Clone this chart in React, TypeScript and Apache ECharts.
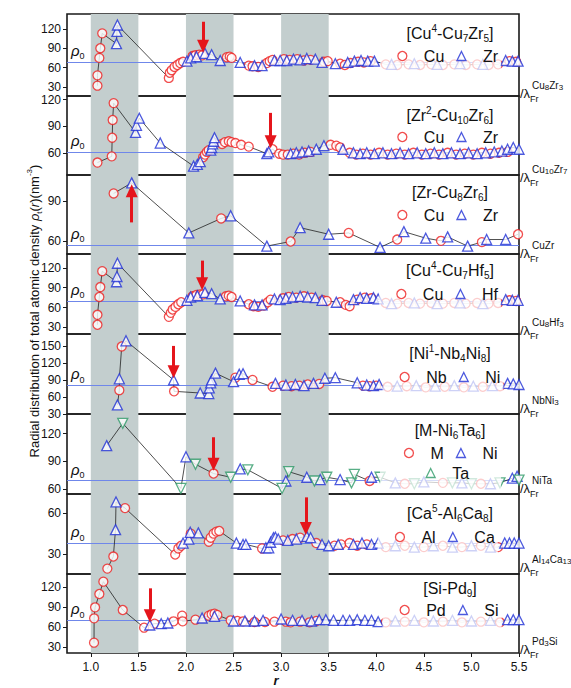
import React, { useEffect, useRef } from 'react';
import * as echarts from 'echarts';

// ---------- shared axis data ----------
const xTickValues = [1.0, 1.5, 2.0, 2.5, 3.0, 3.5, 4.0, 4.5, 5.0, 5.5];
const shadedBands = [[1.0, 1.5], [2.0, 2.5], [3.0, 3.5]];

// ---------- panel 1: [Cu4-Cu7Zr5] ----------
const p1Cu = [[1.07,32],[1.07,48],[1.09,75],[1.10,90],[1.12,113],[1.82,44],[1.83,52],[1.85,56],[1.88,61],[1.91,64],[1.94,67],[1.97,69],[2.07,78],[2.10,79],[2.14,80],[2.17,79],[2.43,76],[2.46,77],[2.48,75],[2.66,63],[2.70,62],[2.76,61],[2.85,67],[2.88,70],[2.91,72],[3.03,73],[3.09,72],[3.17,73],[3.24,71],[3.31,72],[3.45,69],[3.49,70],[3.62,66],[3.67,64],[3.73,67],[3.81,69],[3.87,68],[3.94,70],[4.10,65],[4.22,64],[4.34,65],[4.46,64],[4.58,65],[4.70,64],[4.82,65],[4.94,64],[5.06,65],[5.18,64],[5.28,65],[5.40,70],[5.47,69]];
const p1Zr = [[1.27,97],[1.275,116],[1.28,126],[2.01,70],[2.05,75],[2.11,77],[2.20,82],[2.27,80],[2.36,71],[2.57,68],[2.72,63],[2.80,63],[2.93,71],[2.99,71],[3.06,71],[3.13,73],[3.20,72],[3.27,74],[3.36,73],[3.43,68],[3.57,66],[3.70,68],[3.77,70],[3.84,71],[3.91,70],[3.98,70],[4.16,65],[4.40,66],[4.64,65],[4.88,66],[5.12,65],[5.36,71],[5.43,70],[5.49,70]];

// ---------- panel 2: [Zr2-Cu10Zr6] ----------
const p2Cu = [[1.07,49],[1.22,56],[1.225,77],[1.23,97],[1.24,116],[2.18,55],[2.20,58],[2.22,61],[2.24,63],[2.38,70],[2.41,72],[2.45,73],[2.48,72],[2.52,71],[2.58,69],[2.66,67],[2.91,64],[2.98,59],[3.02,58],[3.07,58],[3.13,59],[3.19,58],[3.25,60],[3.31,61],[3.52,69],[3.58,68],[3.62,66],[3.72,60],[3.79,58],[3.86,59],[3.94,58],[4.03,60],[4.12,58],[4.21,59],[4.30,58],[4.39,60],[4.48,58],[4.57,59],[4.66,58],[4.75,60],[4.84,58],[4.93,59],[5.02,58],[5.11,60],[5.20,59],[5.29,60],[5.38,61]];
const p2Zr = [[1.47,83],[1.48,91],[1.51,99],[1.73,71],[2.08,45],[2.12,47],[2.15,50],[2.26,63],[2.27,66],[2.28,70],[2.29,73],[2.30,77],[2.85,59],[2.87,61],[3.10,59],[3.16,60],[3.22,61],[3.29,62],[3.37,64],[3.45,68],[3.65,64],[3.76,60],[3.83,59],[3.90,60],[3.98,59],[4.07,60],[4.16,59],[4.25,60],[4.34,59],[4.43,60],[4.52,59],[4.61,60],[4.70,59],[4.79,60],[4.88,59],[4.97,60],[5.06,59],[5.15,60],[5.24,61],[5.32,62],[5.38,64],[5.44,66],[5.50,64]];

// ---------- panel 3: [Zr-Cu8Zr6] ----------
const p3Cu = [[1.24,96],[2.37,77],[3.10,59.5],[3.71,66],[4.22,61],[4.68,60],[5.11,59],[5.49,65]];
const p3Zr = [[1.43,104],[2.03,66],[2.47,79],[2.85,56],[3.20,70],[3.50,65],[4.04,55],[4.29,67],[4.52,62],[4.75,63],[4.96,56],[5.16,61],[5.36,61]];

// ---------- panel 4: [Cu4-Cu7Hf5] ----------
const p4Cu = [[1.07,34],[1.07,49],[1.09,76],[1.10,91],[1.12,115],[1.82,46],[1.84,52],[1.86,57],[1.89,61],[1.92,65],[1.95,68],[2.07,77],[2.11,79],[2.15,80],[2.18,80],[2.42,77],[2.45,78],[2.48,76],[2.66,65],[2.71,62],[2.76,61],[2.82,63],[2.86,68],[2.89,72],[3.02,74],[3.08,76],[3.16,75],[3.24,77],[3.32,75],[3.44,71],[3.48,70],[3.62,68],[3.68,64],[3.72,62],[3.80,72],[3.88,75],[3.95,74],[4.10,67],[4.22,66],[4.34,67],[4.46,66],[4.58,67],[4.70,66],[4.82,67],[4.94,66],[5.06,67],[5.18,66],[5.28,67],[5.40,71],[5.47,70]];
const p4Hf = [[1.27,99],[1.275,107],[1.28,127],[2.01,71],[2.05,76],[2.12,78],[2.20,83],[2.27,81],[2.36,73],[2.57,70],[2.72,64],[2.80,64],[2.93,73],[2.99,72],[3.05,74],[3.12,76],[3.20,77],[3.28,76],[3.36,75],[3.43,71],[3.58,68],[3.76,72],[3.83,75],[3.90,74],[3.97,75],[4.02,73],[4.16,66],[4.40,67],[4.64,66],[4.88,67],[5.12,66],[5.36,72],[5.43,71],[5.49,71]];

// ---------- panel 5: [Ni1-Nb4Ni8] ----------
const p5Nb = [[1.30,72],[1.325,149],[1.875,70],[2.52,94],[2.70,90],[2.91,78],[3.02,80],[3.11,79],[3.19,80],[3.28,82],[3.40,83],[3.86,80],[3.93,79],[4.00,80],[4.12,78],[4.32,79],[4.52,77],[4.72,78],[4.92,77],[5.12,78],[5.30,79]];
const p5Ni = [[1.28,46],[1.30,92],[1.37,159],[1.87,90],[2.15,67],[2.24,66],[2.245,76],[2.26,85],[2.27,90],[2.31,102],[2.50,87],[2.56,100],[2.60,101],[2.94,84],[3.05,81],[3.15,82],[3.24,80],[3.34,84],[3.46,93],[3.57,94],[3.80,85],[3.90,81],[3.97,80],[4.03,82],[4.22,79],[4.42,80],[4.62,79],[4.82,80],[5.02,79],[5.22,80],[5.38,84],[5.44,83],[5.50,82]];

// ---------- panel 6: [M-Ni6Ta6] ----------
const p6M = [[2.29,77],[3.93,69],[4.30,66],[4.70,67],[5.10,66]];
const p6Ni = [[1.167,107],[2.0,95],[2.57,82],[3.05,69],[3.27,73],[3.41,70.5],[3.62,70.5],[3.95,73],[4.20,67],[4.50,68],[4.90,67],[5.20,66],[5.43,72],[5.48,74]];
const p6Ta = [[1.336,131],[1.947,61],[2.10,87],[2.47,73],[2.65,81],[3.01,61],[3.08,79],[3.35,69],[3.48,73],[3.74,67],[3.77,76],[4.04,73],[4.40,66],[4.80,67],[5.00,66],[5.30,67],[5.50,70]];

// ---------- panel 7: [Ca5-Al6Ca8] ----------
const p7Al = [[1.174,19],[1.237,28],[1.36,64],[1.887,29.5],[1.92,34],[1.95,36],[2.05,45],[2.24,39],[2.26,42],[2.29,45],[2.32,46.5],[2.35,47],[2.80,34],[3.02,40],[3.12,41],[3.20,42],[3.37,38],[3.56,36],[3.63,37],[3.72,38],[3.80,36],[3.90,37],[4.10,35],[4.30,36],[4.50,35],[4.70,36],[4.90,35],[5.10,36],[5.28,35]];
const p7Ca = [[1.26,48],[1.265,68.6],[1.97,38],[2.03,41],[2.045,46],[2.13,45.6],[2.53,38],[2.60,37],[2.63,37],[2.84,34.5],[2.87,34.5],[2.89,38.6],[2.92,42],[2.94,42.3],[2.97,41],[3.07,40],[3.16,41],[3.27,43],[3.31,42],[3.43,37],[3.50,36],[3.60,37],[3.76,37],[3.85,38],[3.95,37],[4.02,38],[4.20,36],[4.40,35],[4.60,36],[4.80,35],[5.00,36],[5.20,35],[5.35,38],[5.40,38],[5.45,38],[5.50,38]];

// ---------- panel 8: [Si-Pd9] ----------
const p8Pd = [[1.034,36.5],[1.035,73],[1.045,89.5],[1.09,109.5],[1.132,128],[1.336,85.5],[1.56,59],[1.67,65],[1.87,68.5],[1.96,77],[1.965,68.5],[2.10,71],[2.24,77],[2.27,79],[2.30,80],[2.33,78],[2.47,70],[2.54,69],[2.60,68.5],[2.72,67.5],[2.83,67.5],[2.93,68],[3.05,68],[3.10,67],[3.20,68],[3.30,67],[3.37,69],[4.10,67],[4.30,68],[4.50,67],[4.70,68],[4.90,67],[5.10,68],[5.30,67]];
const p8Si = [[1.62,63],[1.74,65],[1.81,66],[2.17,73.5],[2.30,76],[2.50,69],[2.62,69],[2.72,69],[2.81,70],[3.00,72],[3.12,70],[3.22,70],[3.32,69],[3.40,71],[3.47,71],[3.55,70],[3.65,70],[3.72,70],[3.80,71],[3.88,70],[3.95,70],[4.02,68],[4.20,69],[4.40,70],[4.60,69],[4.80,70],[5.00,69],[5.20,70],[5.38,71],[5.44,71],[5.50,71]];

// ---------- per-panel axes / reference values ----------
const yMin = [16, 35, 50, 20, 30, 55, 15, 21];
const yMax = [143, 124, 110, 141, 171, 141, 74.5, 139.5];
const yTickValues = [[30,60,90,120],[60,90,120],[60,90],[30,60,90,120],[30,60,90,120,150],[60,90,120],[30,60],[30,60,90,120]];
const rho0 = [69, 61, 57, 70, 81, 69.5, 38, 70];
const arrowR = [2.18, 2.89, 1.43, 2.17, 1.87, 2.29, 3.26, 1.62];
const arrowFrom = [131, 105, 74, 131, 150, 116, 72, 118];
const arrowTip = [83, 65, 103, 86, 93, 80, 44, 67];

const titleTexts = [
  '[Cu{sup|4}-Cu{sub|7}Zr{sub|5}]',
  '[Zr{sup|2}-Cu{sub|10}Zr{sub|6}]',
  '[Zr-Cu{sub|8}Zr{sub|6}]',
  '[Cu{sup|4}-Cu{sub|7}Hf{sub|5}]',
  '[Ni{sup|1}-Nb{sub|4}Ni{sub|8}]',
  '[M-Ni{sub|6}Ta{sub|6}]',
  '[Ca{sup|5}-Al{sub|6}Ca{sub|8}]',
  '[Si-Pd{sub|9}]',
];
const phaseTexts = ['Cu{d|8}Zr{d|3}', 'Cu{d|10}Zr{d|7}', 'CuZr', 'Cu{d|8}Hf{d|3}', 'NbNi{d|3}', 'NiTa', 'Al{d|14}Ca{d|13}', 'Pd{d|3}Si'];

// ---------- styling / layout ----------
const FONT = '"Liberation Sans", Arial, Helvetica, sans-serif';
const RED = '#ee2020';
const BLUE = '#1f2fd6';
const GREEN = '#2e9a68';
const RHO = '#6f87ea';
const BAND = '#c3cece';
const ARROW = '#e5151b';
const FRAME = '#1a1a1a';

const GRID_LEFT = 67;
const GRID_WIDTH = 452;
const tops = [14, 96, 175, 254, 334, 414, 494, 574];
const bottoms = [96, 175, 254, 334, 414, 494, 574, 653];
const titleY = [33, 115, 192, 270, 353, 430, 513, 588];
const lambdaY = [93, 177, 253, 330, 408, 488, 567, 649];

type Sp = { name: string; data: number[][]; color: string; symbol: string; rotate: number; size: number };
const circ = (name: string, data: number[][]): Sp => ({ name, data, color: RED, symbol: 'circle', rotate: 0, size: 9 });
const up = (name: string, data: number[][]): Sp => ({ name, data, color: BLUE, symbol: 'triangle', rotate: 0, size: 10 });
const down = (name: string, data: number[][]): Sp => ({ name, data, color: GREEN, symbol: 'triangle', rotate: 180, size: 10 });

const panels: Sp[][] = [
  [circ('Cu', p1Cu), up('Zr', p1Zr)],
  [circ('Cu', p2Cu), up('Zr', p2Zr)],
  [circ('Cu', p3Cu), up('Zr', p3Zr)],
  [circ('Cu', p4Cu), up('Hf', p4Hf)],
  [circ('Nb', p5Nb), up('Ni', p5Ni)],
  [circ('M', p6M), up('Ni', p6Ni), down('Ta', p6Ta)],
  [circ('Al', p7Al), up('Ca', p7Ca)],
  [circ('Pd', p8Pd), up('Si', p8Si)],
];

// legends: names, first icon centre x, row centre y, faded background?
const legendSpecs = [
  { names: ['Cu', 'Zr'], cx: 401.7, row: 56, fade: true, padR: 3 },
  { names: ['Cu', 'Zr'], cx: 401.7, row: 137, fade: false, padR: 3 },
  { names: ['Cu', 'Zr'], cx: 401.7, row: 215, fade: false, padR: 3 },
  { names: ['Cu', 'Hf'], cx: 400.7, row: 294, fade: true, padR: 3 },
  { names: ['Nb', 'Ni'], cx: 404, row: 377, fade: true, padR: 3 },
  { names: ['M', 'Ni'], cx: 408.3, row: 453, fade: false, padR: 3 },
  { names: ['Ta'], cx: 430, row: 473, fade: true, padR: 32 },
  { names: ['Al', 'Ca'], cx: 399.3, row: 537, fade: true, padR: 3 },
  { names: ['Pd', 'Si'], cx: 404, row: 610, fade: true, padR: 3 },
];

function mergeByR(list: Sp[]): number[][] {
  const all: number[][] = [];
  list.forEach((s) => s.data.forEach((p) => all.push(p)));
  return all.slice().sort((a, b) => a[0] - b[0]);
}

function buildOption() {
  const grid = tops.map((t, i) => ({
    left: GRID_LEFT, width: GRID_WIDTH, top: t, height: bottoms[i] - t,
    show: true, borderColor: FRAME, borderWidth: 1.6, backgroundColor: 'transparent',
  }));

  const xAxis = tops.map((_, i) => ({
    type: 'value', gridIndex: i, min: 0.75, max: 5.5,
    axisLine: { show: false }, splitLine: { show: false },
    axisTick: { show: i === 7, customValues: xTickValues, length: 4, lineStyle: { color: FRAME } },
    axisLabel: {
      show: i === 7, customValues: xTickValues, formatter: (v: number) => v.toFixed(1),
      fontSize: 12, color: '#111', margin: 8, fontFamily: FONT,
    },
  }));

  const yAxis = tops.map((_, i) => ({
    type: 'value', gridIndex: i, min: yMin[i], max: yMax[i],
    axisLine: { show: false }, splitLine: { show: false },
    axisTick: { show: true, customValues: yTickValues[i], length: 4, lineStyle: { color: FRAME } },
    axisLabel: { customValues: yTickValues[i], fontSize: 12, color: '#111', margin: 6, fontFamily: FONT },
  }));

  const series: any[] = [];
  panels.forEach((sps, i) => {
    series.push({
      type: 'line', name: 'path' + i, xAxisIndex: i, yAxisIndex: i,
      data: mergeByR(sps), symbol: 'none', showSymbol: false, silent: true,
      lineStyle: { color: '#222', width: 0.8 }, z: 2,
      markArea: {
        silent: true, itemStyle: { color: BAND },
        data: shadedBands.map(([a, b]) => [{ xAxis: a }, { xAxis: b }]),
      },
      markLine: {
        silent: true, z: 1, symbol: ['none', 'none'],
        lineStyle: { color: RHO, width: 1, type: 'solid' },
        label: {
          show: true, position: 'insideStartTop', distance: 4,
          formatter: '{r|ρ}{s|0}',
          rich: {
            r: { fontSize: 15, fontStyle: 'italic', fontFamily: FONT, color: '#111' },
            s: { fontSize: 9, fontFamily: FONT, color: '#111', verticalAlign: 'bottom', padding: [0, 0, -3, 0] },
          },
        },
        data: [{ yAxis: rho0[i] }],
      },
    });
    const pxPerUnit = (bottoms[i] - tops[i]) / (yMax[i] - yMin[i]);
    const dir = arrowTip[i] < arrowFrom[i] ? 1 : -1;
    const endVal = arrowTip[i] + dir * (6.5 / pxPerUnit);
    sps.forEach((s, k) => {
      const ser: any = {
        type: 'scatter', name: s.name, xAxisIndex: i, yAxisIndex: i, data: s.data,
        symbol: s.symbol, symbolSize: s.size, symbolRotate: s.rotate, z: 3,
        itemStyle: { color: '#ffffff', borderColor: s.color, borderWidth: 1.3 },
      };
      if (k === sps.length - 1) {
        ser.markLine = {
          silent: true, z: 6, symbol: ['none', 'triangle'], symbolSize: [12, 13],
          lineStyle: { color: ARROW, width: 3, type: 'solid' },
          itemStyle: { color: ARROW },
          label: { show: false },
          data: [[{ coord: [arrowR[i], arrowFrom[i]] }, { coord: [arrowR[i], endVal] }]],
        };
      }
      series.push(ser);
    });
  });

  const legend = legendSpecs.map((l) => {
    const padL = l.fade ? (l.names.length === 1 ? 45.5 : 17) : 2;
    const padT = 2;
    const padB = l.fade ? 12 : 2;
    return {
      data: l.names, orient: 'horizontal', selectedMode: false,
      left: l.cx - 4.5 - padL, top: l.row - 8 - padT,
      itemWidth: 9, itemHeight: 9, itemGap: 12,
      padding: [padT, l.padR, padB, padL],
      backgroundColor: l.fade ? 'rgba(255,255,255,0.72)' : 'transparent',
      itemStyle: { borderWidth: 1.3 },
      textStyle: { fontSize: 16, color: '#111', fontFamily: FONT, padding: [0, 0, 0, 12] },
    };
  });

  const graphic: any[] = [];
  titleTexts.forEach((t, i) => {
    graphic.push({
      type: 'text', x: 450, y: titleY[i], z: 100, silent: true,
      style: {
        text: t, fontSize: 16, fontFamily: FONT, lineHeight: 20, fill: '#111',
        align: 'center', verticalAlign: 'middle',
        rich: {
          sup: { fontSize: 10, lineHeight: 10, verticalAlign: 'top', fontFamily: FONT, fill: '#111' },
          sub: { fontSize: 10, lineHeight: 10, verticalAlign: 'bottom', fontFamily: FONT, fill: '#111' },
        },
      },
    });
  });
  phaseTexts.forEach((t, i) => {
    graphic.push({
      type: 'text', x: 520, y: lambdaY[i], z: 100, silent: true,
      style: {
        text: '/λ{s|Fr}', fontSize: 13, fontFamily: FONT, lineHeight: 20, fill: '#111',
        align: 'left', verticalAlign: 'middle',
        rich: { s: { fontSize: 9, lineHeight: 9, verticalAlign: 'bottom', fontFamily: FONT, fill: '#111' } },
      },
    });
    graphic.push({
      type: 'text', x: 532, y: lambdaY[i] - 8, z: 100, silent: true,
      style: {
        text: t, fontSize: 10, fontFamily: FONT, lineHeight: 13, fill: '#111',
        align: 'left', verticalAlign: 'middle',
        rich: { d: { fontSize: 8, lineHeight: 8, verticalAlign: 'bottom', fontFamily: FONT, fill: '#111' } },
      },
    });
  });
  graphic.push({
    type: 'text', x: 34, y: 311, rotation: Math.PI / 2, z: 100, silent: true,
    style: {
      text: 'Radial distribution of total atomic density {i|ρ}{t|t}({i|r})(nm{e|-3})',
      fontSize: 13, fontFamily: FONT, lineHeight: 18, fill: '#111',
      align: 'center', verticalAlign: 'middle',
      rich: {
        i: { fontSize: 13, fontStyle: 'italic', fontFamily: FONT, fill: '#111' },
        t: { fontSize: 8, lineHeight: 8, verticalAlign: 'bottom', fontFamily: FONT, fill: '#111' },
        e: { fontSize: 8, lineHeight: 8, verticalAlign: 'top', fontFamily: FONT, fill: '#111' },
      },
    },
  });
  graphic.push({
    type: 'text', x: 276, y: 680, z: 100, silent: true,
    style: {
      text: 'r', fontSize: 13, fontStyle: 'italic', fontWeight: 'bold', fontFamily: FONT,
      fill: '#111', align: 'center', verticalAlign: 'middle',
    },
  });

  return { animation: false, textStyle: { fontFamily: FONT }, grid, xAxis, yAxis, legend, series, graphic };
}

export default function App() {
  const ref = useRef<HTMLDivElement>(null);
  useEffect(() => {
    if (!ref.current) return;
    const chart = echarts.init(ref.current, null, { renderer: 'svg' });
    chart.setOption(buildOption() as any);
    return () => chart.dispose();
  }, []);
  return (
    <div
      ref={ref}
      style={{ position: 'fixed', left: 0, top: 0, width: 571, height: 688, background: '#fff' }}
    />
  );
}
